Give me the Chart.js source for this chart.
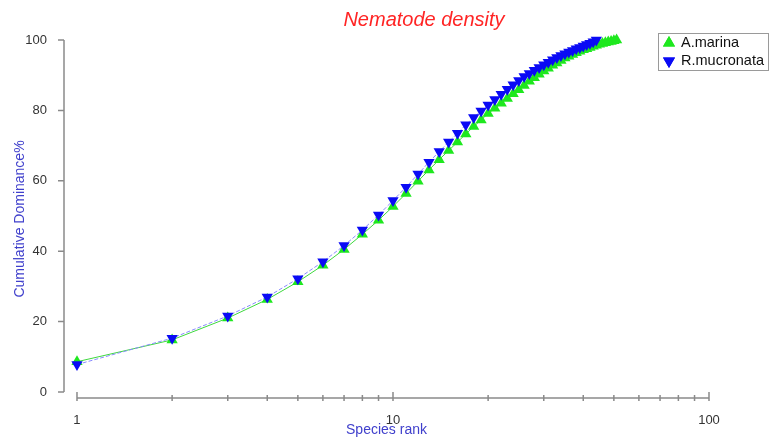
<!DOCTYPE html>
<html>
<head>
<meta charset="utf-8">
<script src="https://cdn.jsdelivr.net/npm/chart.js"></script>
<style>
  body { margin: 0; background: #fff; }
  #wrap { position: relative; width: 771px; height: 439px; }
</style>
</head>
<body>
<div id="wrap"><canvas id="chart" width="771" height="439"></canvas></div>
<script>
// Cumulative dominance (%) by species rank
const marina = [8.6, 14.8, 21.0, 26.3, 31.3, 36.0, 40.5, 44.8, 48.8, 52.7,
    56.4, 59.9, 63.1, 66.0, 68.6, 71.0, 73.3, 75.4, 77.3, 79.1,
    80.6, 82.0, 83.4, 84.7, 85.9, 87.1, 88.3, 89.3, 90.3, 91.2,
    92.0, 92.8, 93.5, 94.2, 94.9, 95.4, 95.9, 96.4, 96.8, 97.2,
    97.5, 97.9, 98.2, 98.5, 98.8, 99.0, 99.2, 99.4, 99.6, 99.8, 100];
const mucronata = [7.8, 15.3, 21.6, 27.0, 32.2, 37.0, 41.6, 46.0, 50.3, 54.4,
    58.2, 61.9, 65.3, 68.3, 71.0, 73.5, 75.9, 78.0, 79.8, 81.5,
    83.1, 84.6, 86.0, 87.3, 88.5, 89.6, 90.5, 91.4, 92.2, 93.0,
    93.7, 94.4, 95.0, 95.6, 96.1, 96.6, 97.0, 97.5, 97.9, 98.3,
    98.7, 99.1, 99.5, 100];
const seriesNames = ['A.marina', 'R.mucronata'];
const xTicks = [1, 2, 3, 4, 5, 6, 7, 8, 9, 10, 20, 30, 40, 50, 60, 70, 80, 90, 100];
const xLabels = [1, 10, 100];
const yTicks = [0, 20, 40, 60, 80, 100];

const GREEN = '#1ee81e';
const BLUE = '#0a0af5';
const AXIS = '#8a8a8a';
const FONT = "'Liberation Sans', Arial, sans-serif";

const toPoints = vals => vals.map((v, i) => ({ x: i + 1, y: v }));

// axis lines + tick marks, drawn between the data limits like the original
const axesPlugin = {
    id: 'axesPlugin',
    afterDraw(chart) {
        const ctx = chart.ctx;
        const xs = chart.scales.x, ys = chart.scales.y;
        const axisY = chart.chartArea.bottom;
        const axisX = chart.chartArea.left;
        ctx.save();
        ctx.strokeStyle = AXIS;
        ctx.lineWidth = 1.5;
        ctx.beginPath();
        ctx.moveTo(axisX, ys.getPixelForValue(100));
        ctx.lineTo(axisX, ys.getPixelForValue(0));
        yTicks.forEach(t => {
            const py = ys.getPixelForValue(t);
            ctx.moveTo(axisX - 6, py);
            ctx.lineTo(axisX, py);
        });
        ctx.moveTo(xs.getPixelForValue(1), axisY);
        ctx.lineTo(xs.getPixelForValue(100), axisY);
        xTicks.forEach(t => {
            const px = xs.getPixelForValue(t);
            const major = xLabels.includes(t);
            ctx.moveTo(px, axisY - (major ? 6 : 3));
            ctx.lineTo(px, axisY + 3);
        });
        ctx.stroke();

        // title
        ctx.fillStyle = '#ff2424';
        ctx.font = 'italic 20px ' + FONT;
        ctx.textAlign = 'center';
        ctx.textBaseline = 'middle';
        ctx.fillText('Nematode density', 424, 20);

        // legend box
        ctx.strokeStyle = '#9a9a9a';
        ctx.lineWidth = 1;
        ctx.strokeRect(658.5, 33.5, 110, 37);
        const items = [
            { name: seriesNames[0], color: GREEN, rot: 0, y: 43 },
            { name: seriesNames[1], color: BLUE, rot: 180, y: 61 }
        ];
        ctx.font = '14.5px ' + FONT;
        ctx.textAlign = 'left';
        items.forEach(it => {
            ctx.fillStyle = it.color;
            Chart.helpers.drawPoint(ctx, { pointStyle: 'triangle', radius: 7, rotation: it.rot, borderWidth: 0 }, 669, it.y);
            ctx.fill();
            ctx.fillStyle = '#111';
            ctx.fillText(it.name, 681, it.y);
        });
        ctx.restore();
    }
};

new Chart(document.getElementById('chart'), {
    type: 'scatter',
    data: {
        datasets: [
            {
                label: seriesNames[0],
                data: toPoints(marina),
                showLine: true,
                borderColor: '#3ed83e',
                borderWidth: 1,
                pointStyle: 'triangle',
                pointRadius: 6.5,
                pointBackgroundColor: GREEN,
                pointBorderColor: GREEN,
                pointBorderWidth: 0,
                clip: false,
                order: 2
            },
            {
                label: seriesNames[1],
                data: toPoints(mucronata),
                showLine: true,
                borderColor: '#8a8aff',
                borderWidth: 1,
                borderDash: [4, 2],
                pointStyle: 'triangle',
                pointRotation: 180,
                pointRadius: 6.5,
                pointBackgroundColor: BLUE,
                pointBorderColor: BLUE,
                pointBorderWidth: 0,
                clip: false,
                order: 1
            }
        ]
    },
    options: {
        responsive: false,
        animation: false,
        events: [],
        layout: { padding: { left: 0, top: 40, right: 62, bottom: 0 } },
        plugins: {
            legend: { display: false },
            title: { display: false },
            tooltip: { enabled: false }
        },
        scales: {
            x: {
                type: 'logarithmic',
                min: 0.9097,
                max: 100,
                grid: { display: false },
                border: { display: false },
                afterBuildTicks: s => { s.ticks = xTicks.map(v => ({ value: v })); },
                afterFit: s => { s.height = 41; },
                ticks: {
                    autoSkip: false,
                    maxRotation: 0,
                    padding: 7,
                    color: '#333',
                    font: { family: FONT, size: 13 },
                    callback: v => xLabels.includes(v) ? String(v) : ''
                },
                title: {
                    display: true,
                    text: 'Species rank',
                    color: '#4040cc',
                    font: { family: FONT, size: 14 },
                    padding: { top: 0, bottom: 0 }
                }
            },
            y: {
                min: -1.705,
                max: 100,
                grid: { display: false },
                border: { display: false },
                afterBuildTicks: s => { s.ticks = yTicks.map(v => ({ value: v })); },
                afterFit: s => { s.width = 64; },
                ticks: {
                    padding: 9,
                    color: '#333',
                    font: { family: FONT, size: 13 }
                },
                title: {
                    display: true,
                    text: 'Cumulative Dominance%',
                    color: '#4040cc',
                    font: { family: FONT, size: 14 },
                    padding: { top: 12, bottom: 0 }
                }
            }
        }
    },
    plugins: [axesPlugin]
});
</script>
</body>
</html>
